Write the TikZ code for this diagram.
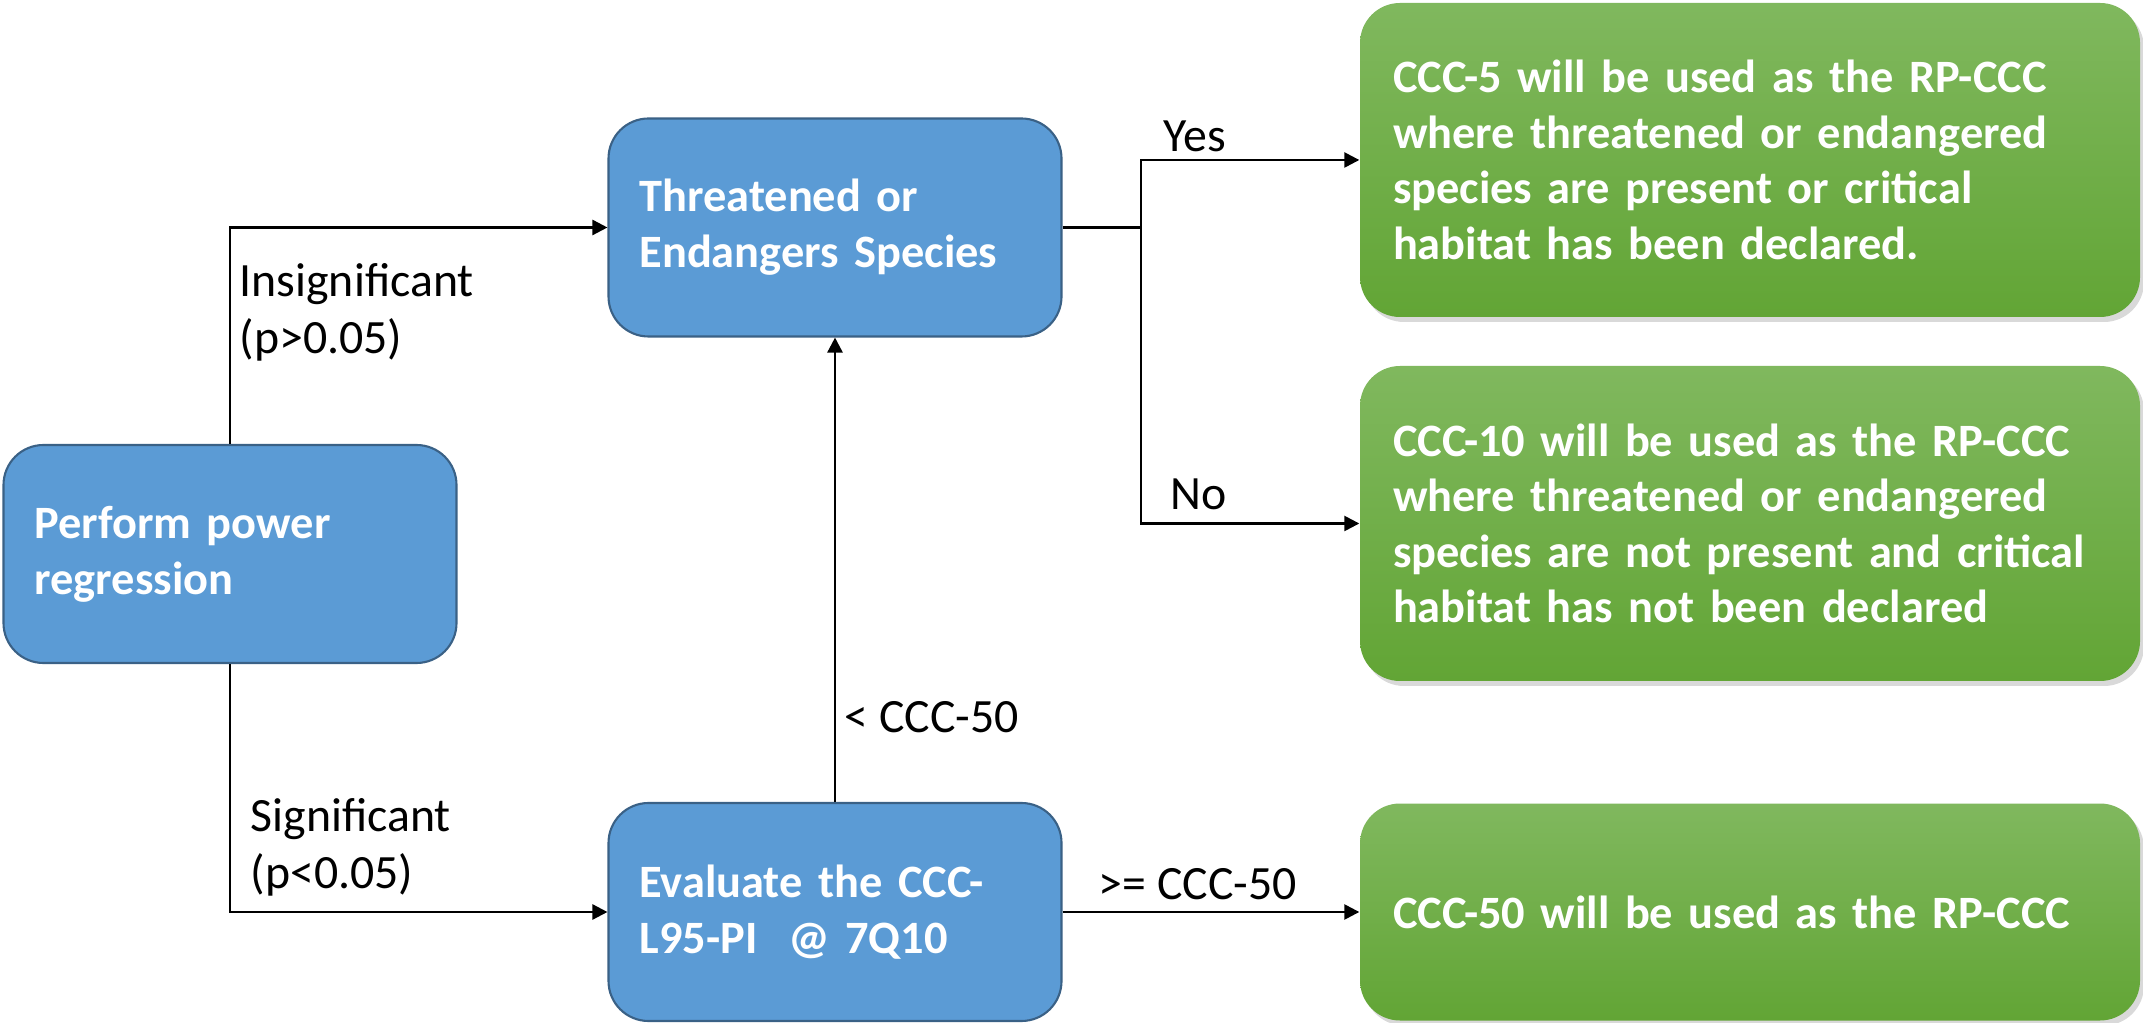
\documentclass[tikz,border=0pt]{standalone}
\usepackage{fontspec}
\setmainfont{Carlito}
\usepackage{xcolor}
\usetikzlibrary{positioning, arrows.meta, shapes, shadows}

\definecolor{boxblue}{HTML}{5B9BD5}
\definecolor{boxedge}{HTML}{3A6186}
\definecolor{grntop}{HTML}{80B85E}
\definecolor{grnbot}{HTML}{62A535}

\tikzset{
  blubox/.style={rectangle, rounded corners=0.4cm, fill=boxblue, draw=boxedge, line width=0.6pt,
    text=white, font=\fontsize{13.2pt}{16pt}\selectfont\bfseries, align=left, text width=3.91cm,
    inner xsep=0.31cm, minimum height=2.18cm},
  grnbox/.style={rectangle, rounded corners=0.4cm, top color=grntop, bottom color=grnbot,
    text=white, font=\fontsize{13.2pt}{15.8pt}\selectfont\bfseries, align=left, text width=7.14cm,
    inner xsep=0.33cm, drop shadow={opacity=0.3, shadow xshift=0.04cm, shadow yshift=-0.05cm}},
  lbl/.style={inner sep=0pt, align=left, anchor=west},
  arr/.style={-{Triangle[length=1.5mm, width=1.5mm]}, line width=0.7pt},
}

\begin{document}
\fontsize{13.6pt}{16.2pt}\selectfont
\begin{tikzpicture}
    \useasboundingbox (0,0) rectangle (21.43,10.22);

    % Draw blue boxes
    \node[blubox] (perform) at (2.30,4.68) {Perform power\\regression};
    \node[blubox] (threat) at (8.35,7.945) {Threatened or\\Endangers Species};
    \node[blubox] (evaluate) at (8.35,1.10) {Evaluate the CCC-\\L95-PI\ \ @ 7Q10};

    % Draw green result boxes
    \node[grnbox, minimum height=3.14cm] (ccc5) at (17.50,8.62)
        {CCC-5 will be used as the RP-CCC\\where threatened or endangered\\species are present or critical\\habitat has been declared.};
    \node[grnbox, minimum height=3.15cm] (ccc10) at (17.50,4.985)
        {CCC-10 will be used as the RP-CCC\\where threatened or endangered\\species are not present and critical\\habitat has not been declared};
    \node[grnbox, minimum height=2.17cm] (ccc50) at (17.50,1.10)
        {CCC-50 will be used as the RP-CCC};

    % Draw connectors
    \coordinate (split) at (11.41,7.945);
    \draw[arr] (perform.north) |- (threat.west);
    \draw[arr] (perform.south) |- (evaluate.west);
    \draw[arr] (evaluate.north) -- (threat.south);
    \draw[line width=0.7pt] (threat.east) -- (split);
    \draw[arr] (split) |- (ccc5.west);
    \draw[arr] (split) |- (ccc10.west);
    \draw[arr] (evaluate.east) -- (ccc50.west);

    % Draw labels
    \node[lbl] (insig) at (2.39,7.10) {Insignificant\\(p>0.05)};
    \node[lbl] (sig) at (2.50,1.75) {Significant\\(p<0.05)};
    \node[lbl] (below50) at (8.44,3.05) {< CCC-50};
    \node[lbl] (above50) at (10.98,1.38) {>= CCC-50};
    \node[lbl] (yes) at (11.63,8.86) {Yes};
    \node[lbl] (no) at (11.70,5.28) {No};
\end{tikzpicture}
\end{document}
